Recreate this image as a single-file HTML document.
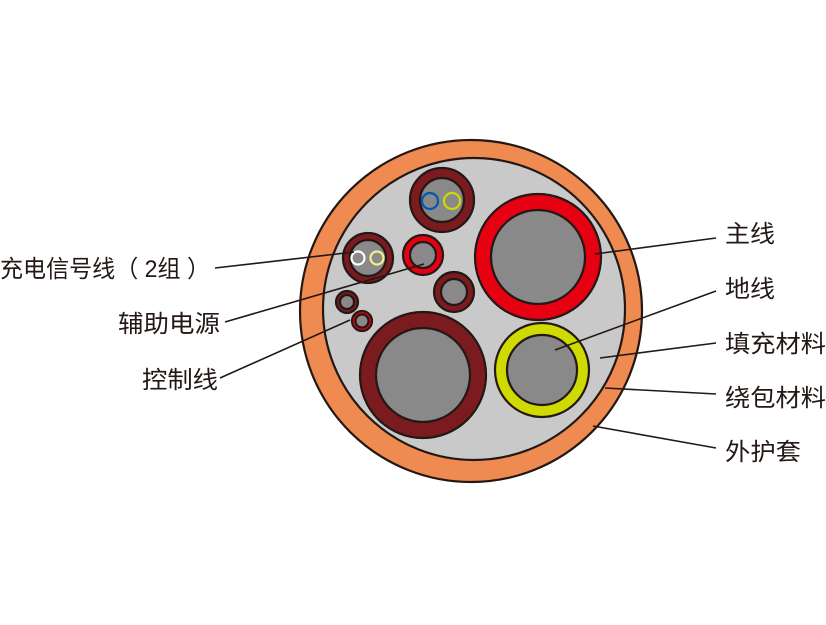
<!DOCTYPE html>
<html><head><meta charset="utf-8"><style>
body{margin:0;background:#fff}
svg text{font-family:"Liberation Sans","Noto Sans CJK SC",sans-serif;font-size:24px;fill:#231815}
</style></head><body>
<svg width="826" height="620" viewBox="0 0 826 620" xmlns="http://www.w3.org/2000/svg">
<g stroke="#231815" stroke-width="2.2">
<circle cx="471" cy="311" r="171" fill="#ef8a50"/>
<circle cx="474" cy="309" r="151" fill="#c9c9ca"/>
<circle cx="538" cy="257" r="63" fill="#e60012"/>
<circle cx="538" cy="257" r="47" fill="#898989"/>
<circle cx="423" cy="375" r="63" fill="#7b1a1f"/>
<circle cx="423" cy="375" r="47" fill="#898989"/>
<circle cx="542" cy="370" r="47" fill="#cfdb00"/>
<circle cx="542" cy="370" r="35" fill="#898989"/>
<circle cx="442" cy="200" r="32" fill="#7b1a1f"/>
<circle cx="442" cy="200" r="22" fill="#898989"/>
<circle cx="368" cy="258" r="25" fill="#7b1a1f"/>
<circle cx="368" cy="258" r="18" fill="#898989"/>
<circle cx="423" cy="255" r="20" fill="#e60012"/>
<circle cx="423" cy="255" r="13" fill="#898989"/>
<circle cx="454" cy="292" r="20" fill="#7b1a1f"/>
<circle cx="454" cy="292" r="13" fill="#898989"/>
<circle cx="347" cy="302" r="11" fill="#7b1a1f"/>
<circle cx="347" cy="302" r="7" fill="#898989"/>
<circle cx="362" cy="321" r="10" fill="#e60012"/>
<circle cx="362" cy="321" r="6.5" fill="#898989"/>
</g>
<g stroke-width="2.2" fill="#898989">
<circle cx="430" cy="201" r="8" stroke="#0057b8"/>
<circle cx="452" cy="201" r="8" stroke="#cfdb00"/>
<circle cx="358" cy="258" r="6.5" stroke="#fff"/>
<circle cx="377" cy="258" r="6.5" stroke="#f3f08a"/>
</g>
<g stroke="#231815" stroke-width="1.6">
<line x1="215" y1="268" x2="354" y2="252"/>
<line x1="225" y1="322" x2="424" y2="264"/>
<line x1="220" y1="378" x2="350" y2="320"/>
<line x1="595" y1="254" x2="716" y2="238"/>
<line x1="555" y1="350" x2="716" y2="291"/>
<line x1="600" y1="358" x2="716" y2="343"/>
<line x1="605" y1="388" x2="716" y2="394"/>
<line x1="593" y1="426" x2="716" y2="448"/>
</g>
<text x="0" y="277" textLength="210" lengthAdjust="spacingAndGlyphs">充电信号线（ 2组 ）</text>
<text x="118" y="332" textLength="102" lengthAdjust="spacingAndGlyphs">辅助电源</text>
<text x="142" y="388" textLength="76" lengthAdjust="spacingAndGlyphs">控制线</text>
<text x="725" y="242" textLength="50" lengthAdjust="spacingAndGlyphs">主线</text>
<text x="725" y="297" textLength="50" lengthAdjust="spacingAndGlyphs">地线</text>
<text x="725" y="352" textLength="101" lengthAdjust="spacingAndGlyphs">填充材料</text>
<text x="725" y="406" textLength="101" lengthAdjust="spacingAndGlyphs">绕包材料</text>
<text x="725" y="460" textLength="76" lengthAdjust="spacingAndGlyphs">外护套</text>
</svg>
</body></html>
